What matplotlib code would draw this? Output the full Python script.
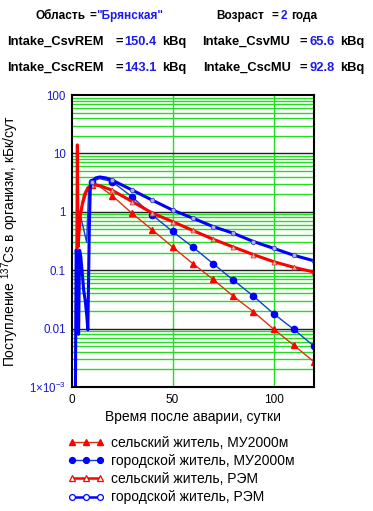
import matplotlib
matplotlib.use("Agg")
import matplotlib.pyplot as plt
from matplotlib.lines import Line2D

plt.rcParams['font.family'] = ['Liberation Sans', 'DejaVu Sans']
plt.rcParams['mathtext.fontset'] = 'custom'
plt.rcParams['mathtext.rm'] = 'Liberation Sans'
plt.rcParams['mathtext.it'] = 'Liberation Sans:italic'
plt.rcParams['mathtext.bf'] = 'Liberation Sans:bold'

# ---- data ----
mu_rural_days = [4, 6, 8, 10, 14, 20, 30, 40, 50, 60, 70, 80, 90, 100, 110, 120]
mu_rural_vals = [0.9, 2.0, 2.7, 2.9, 2.7, 1.9, 0.94, 0.49, 0.25, 0.13, 0.07, 0.036, 0.0195, 0.0098, 0.0052, 0.0027]

mu_urban_days = [4, 7.5, 8.5, 10, 14, 20, 30, 40, 50, 60, 70, 80, 90, 100, 110, 120]
mu_urban_vals = [1.0, 0.3, 2.5, 3.3, 3.7, 3.3, 1.8, 0.88, 0.46, 0.25, 0.13, 0.068, 0.036, 0.018, 0.0097, 0.005]

rem_rural_days = [2.6, 2.9, 3.2, 4.3, 5.5, 6.8, 8, 9.3, 10, 11, 14, 20, 30, 40, 50, 60, 70, 80, 90, 100, 110, 120]
rem_rural_vals = [0.1, 14, 0.25, 0.83, 1.4, 2.0, 2.5, 2.8, 2.9, 2.95, 2.8, 2.35, 1.5, 0.95, 0.68, 0.48, 0.34, 0.25, 0.185, 0.14, 0.112, 0.093]

rem_urban_days = [1.9, 2.3, 2.7, 3.5, 4.0, 4.6, 5.2, 6.0, 6.8, 7.6, 8.1, 8.8, 9.3, 10, 12, 14, 17, 20, 30, 40, 50, 60, 70, 80, 90, 100, 110, 120]
rem_urban_vals = [0.0005, 0.22, 0.18, 0.008, 0.22, 0.17, 0.1, 0.046, 0.03, 0.016, 0.0095, 0.5, 2.6, 3.3, 3.8, 3.95, 3.8, 3.5, 2.36, 1.58, 1.07, 0.78, 0.56, 0.43, 0.31, 0.237, 0.18, 0.145]

series_labels = ["сельский житель, МУ2000м", "городской житель, МУ2000м",
                 "сельский житель, РЭМ", "городской житель, РЭМ"]

x_ticks = [0, 50, 100]
y_ticks = [1e-3, 0.01, 0.1, 1, 10, 100]
y_tick_labels = [r'$1{\times}10^{-3}$', '0.01', '0.1', '1', '10', '100']

W, H = 373, 511
fig = plt.figure(figsize=(W / 100, H / 100), dpi=100)
fig.patch.set_facecolor('white')

def fx(px):
    return px / W

def fy(py):
    return 1 - py / H

ax = fig.add_axes([fx(71.5), fy(387), (314 - 71.5) / W, (387 - 95) / H])
ax.set_yscale('log')
ax.set_xlim(0, 120)
ax.set_ylim(1e-3, 100)

GREEN = '#22dd22'
# grid
ax.set_xticks(x_ticks)
ax.set_yticks(y_ticks)
ax.set_yticklabels(y_tick_labels)
for lvl in y_ticks[1:-1]:
    ax.axhline(lvl, color='#202020', lw=1.0, zorder=1)
for dec in [1e-3, 1e-2, 1e-1, 1, 10]:
    for m in range(2, 10):
        ax.axhline(dec * m, color=GREEN, lw=1.0, zorder=0.5)
for xv in x_ticks[1:]:
    ax.axvline(xv, color=GREEN, lw=1.0, zorder=0.5)

def marks(days):
    return [i for i, d in enumerate(days) if d >= 10 and d % 10 == 0]

RED = '#ff0000'
BLUE = '#0000ff'
l1, = ax.plot(mu_rural_days, mu_rural_vals, color='#e03010', lw=1.0, marker='^', ms=5,
              mfc=RED, mec=RED, markevery=marks(mu_rural_days), zorder=3)
l2, = ax.plot(mu_urban_days, mu_urban_vals, color='#1040d0', lw=1.0, marker='o', ms=4.5,
              mfc=BLUE, mec=BLUE, markevery=marks(mu_urban_days), zorder=3)
l3, = ax.plot(rem_rural_days, rem_rural_vals, color=RED, lw=2.2, marker='^', ms=3.5,
              mfc='#ffb0a0', mec='#c04040', mew=0.6, markevery=marks(rem_rural_days), zorder=4)
l4, = ax.plot(rem_urban_days, rem_urban_vals, color=BLUE, lw=2.2, marker='o', ms=3.2,
              mfc='#b0b0ff', mec='#4040c0', mew=0.6, markevery=marks(rem_urban_days), zorder=4)

for s in ax.spines.values():
    s.set_color('black')
    s.set_linewidth(1.5)
    s.set_zorder(6)

ax.tick_params(axis='both', length=0)
ax.tick_params(axis='y', which='minor', length=0)
ax.tick_params(axis='y', labelsize=8.3, labelcolor='#1a1acc', pad=4)
ax.tick_params(axis='x', labelsize=8.5, labelcolor='black', pad=5)
ax.yaxis.set_minor_formatter(matplotlib.ticker.NullFormatter())

ax.set_xlabel('Время после аварии, сутки', fontsize=10, labelpad=3)
ax.set_ylabel(r'Поступление $^{137}$Cs в организм, кБк/сут', fontsize=10, labelpad=6)

# ---- header texts ----
def t(x, y, s, color='black', size=9.3):
    fig.text(fx(x), fy(y), s, color=color, fontsize=size, fontweight='bold',
             ha='left', va='center')

DBLUE = '#1a1aee'
t(36, 16, 'Область', size=8.5)
t(89, 16, '=', size=8.5)
t(96, 16, '"Брянская"', DBLUE, size=8.5)
t(216, 16, 'Возраст', size=8.5)
t(272, 16, '=', size=8.5)
t(281, 16, '2', DBLUE, size=8.5)
t(291, 16, 'года', size=8.5)

t(7, 42, 'Intake_CsvREM')
t(115, 42, '=')
t(124, 42, '150.4', DBLUE)
t(162, 42, 'kBq')
t(202, 42, 'Intake_CsvMU')
t(299, 42, '=')
t(309, 42, '65.6', DBLUE)
t(340, 42, 'kBq')

t(7, 68, 'Intake_CscREM')
t(115, 68, '=')
t(124, 68, '143.1', DBLUE)
t(162, 68, 'kBq')
t(203, 68, 'Intake_CscMU')
t(300, 68, '=')
t(309, 68, '92.8', DBLUE)
t(340, 68, 'kBq')

# ---- legend ----
handles = [
    Line2D([], [], color='#e03010', lw=1.0, marker='^', ms=4.5, mfc=RED, mec=RED),
    Line2D([], [], color='#1040d0', lw=1.0, marker='o', ms=4.2, mfc=BLUE, mec=BLUE),
    Line2D([], [], color=RED, lw=1.8, marker='^', ms=4.5, mfc='white', mec=RED, mew=0.9),
    Line2D([], [], color=BLUE, lw=1.8, marker='o', ms=4.2, mfc='white', mec=BLUE, mew=0.9),
]
fig.legend(handles, series_labels, loc='upper left', bbox_to_anchor=(fx(68), fy(436)),
           frameon=False, numpoints=3, handlelength=2.6, handletextpad=0.5,
           fontsize=10, labelspacing=0.3, borderaxespad=0, borderpad=0)

fig.savefig('out.png', dpi=100, facecolor='white')
